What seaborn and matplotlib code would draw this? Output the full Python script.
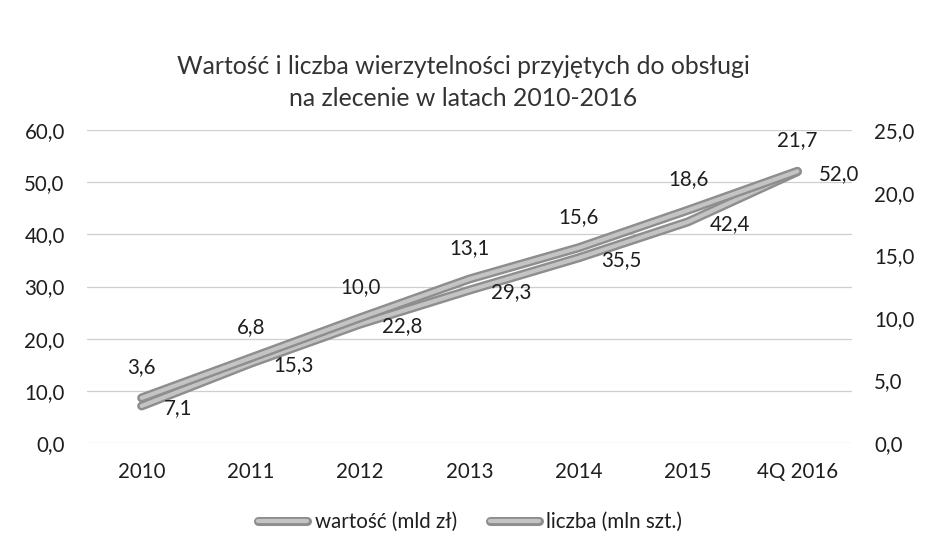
import pandas as pd
import matplotlib.pyplot as plt
import matplotlib.patheffects as pe
from matplotlib.lines import Line2D
import seaborn as sns

# data
years = ["2010", "2011", "2012", "2013", "2014", "2015", "4Q 2016"]
wartosc = [7.1, 15.3, 22.8, 29.3, 35.5, 42.4, 52.0]   # mld zł, left axis
liczba = [3.6, 6.8, 10.0, 13.1, 15.6, 18.6, 21.7]     # mln szt., right axis
left_ticks = [0, 10, 20, 30, 40, 50, 60]
right_ticks = [0, 5, 10, 15, 20, 25]


def pl(v):
    return f"{v:.1f}".replace(".", ",")


def main():
    sns.set_theme(style="white")
    plt.rcParams["font.family"] = ["Lato", "DejaVu Sans"]
    text_col = "#1e1e1e"
    fs = 14.8

    df = pd.DataFrame({"x": range(len(years)), "wartosc": wartosc, "liczba": liczba})

    fig = plt.figure(figsize=(9.26, 5.56), dpi=100)
    ax = fig.add_axes([87 / 926, 113 / 556, 765 / 926, 313 / 556])
    ax2 = ax.twinx()

    line_fx = [pe.Stroke(linewidth=6.5, foreground="#8e8e8e"),
               pe.Stroke(linewidth=3.0, foreground="#c4c4c4")]

    sns.lineplot(data=df, x="x", y="wartosc", ax=ax, color="#a6a6a6", linewidth=6,
                 path_effects=line_fx, legend=False)
    sns.lineplot(data=df, x="x", y="liczba", ax=ax2, color="#a6a6a6", linewidth=6,
                 path_effects=line_fx, legend=False)

    ax.set_xlim(-0.5, len(years) - 0.5)
    ax.set_ylim(0, 60)
    ax2.set_ylim(0, 25)

    ax.set_yticks(left_ticks)
    ax.set_yticklabels([pl(v) for v in left_ticks])
    ax2.set_yticks(right_ticks)
    ax2.set_yticklabels([pl(v) for v in right_ticks])
    ax.set_xticks(range(len(years)))
    ax.set_xticklabels(years)

    ax.tick_params(axis="y", length=0, pad=16, labelsize=fs, labelcolor=text_col)
    ax2.tick_params(axis="y", length=0, pad=16, labelsize=fs, labelcolor=text_col)
    ax.tick_params(axis="x", length=0, pad=14, labelsize=fs, labelcolor=text_col)

    ax.set_xlabel("")
    ax.set_ylabel("")
    ax2.set_ylabel("")
    for a in (ax, ax2):
        for s in a.spines.values():
            s.set_visible(False)
    ax.grid(axis="y", color="#cfcfcf", linewidth=0.9)
    ax.set_axisbelow(True)

    # data labels
    for i, v in enumerate(wartosc):
        ax.annotate(pl(v), (i, v), xytext=(22, -2), textcoords="offset pixels",
                    ha="left", va="center", fontsize=fs, color=text_col)
    for i, v in enumerate(liczba):
        ax2.annotate(pl(v), (i, v), xytext=(0, 31), textcoords="offset pixels",
                     ha="center", va="center", fontsize=fs, color=text_col)

    fig.text(0.5, 1 - 66 / 556, "Wartość i liczba wierzytelności przyjętych do obsługi",
             ha="center", va="center", fontsize=17.8, color="#333333")
    fig.text(0.5, 1 - 98 / 556, "na zlecenie w latach 2010-2016",
             ha="center", va="center", fontsize=17.8, color="#333333")

    handles = [Line2D([], [], color="#a6a6a6", linewidth=5, path_effects=line_fx)
               for _ in range(2)]
    fig.legend(handles, ["wartość (mld zł)", "liczba (mln szt.)"], loc="center",
               bbox_to_anchor=(470 / 926, 1 - 522 / 556), ncol=2, frameon=False,
               fontsize=fs, handlelength=2.4, handletextpad=0.35, columnspacing=1.6,
               labelcolor=text_col)

    fig.savefig("out.png", dpi=100)


if __name__ == "__main__":
    main()
